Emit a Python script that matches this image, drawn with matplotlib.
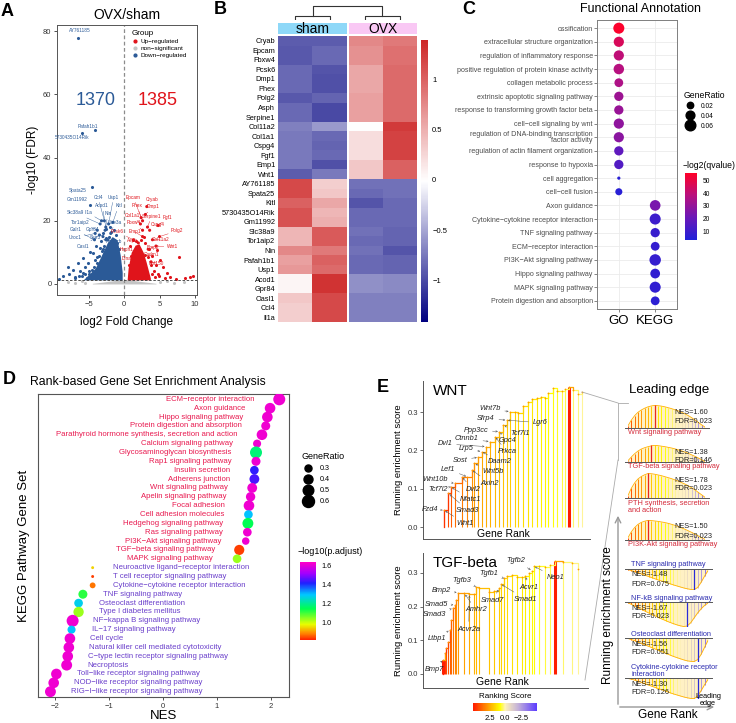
import numpy as np
import matplotlib
matplotlib.use('Agg')
import matplotlib.pyplot as plt
from matplotlib.colors import LinearSegmentedColormap, Normalize
from matplotlib.lines import Line2D
from matplotlib.cm import ScalarMappable

plt.rcParams['font.family'] = ['Liberation Sans', 'DejaVu Sans']

W, H = 736, 723
fig = plt.figure(figsize=(W / 100, H / 100), dpi=100)


def box(x0, y0, x1, y1):
    # axes from pixel box (top-left origin)
    return fig.add_axes([x0 / W, 1 - y1 / H, (x1 - x0) / W, (y1 - y0) / H])


def ftext(x, y, s, **kw):
    return fig.text(x / W, 1 - y / H, s, **kw)


BLUE = '#2B5A97'
RED = '#E0141B'
GREY = '#C4C4C4'

# ---------------- A: volcano data ----------------
grey_x = [-4.5, -3, -2, -1, -0.4, 0, 0.4, 1, 2, 3, 4.5]
grey_top = [0.2, 0.6, 0.9, 1.2, 1.3, 1.0, 1.3, 1.2, 0.9, 0.6, 0.2]
grey_px = [-8.0, -7.0, -6.0, -5.5, 5.0, 6.0, 7.0, 8.5]
grey_py = [0.6, 0.4, 0.8, 0.3, 0.5, 0.9, 0.3, 0.5]
blue_core_x = [-5.8, -4.1, -3.4, -2.4, -1.7, -1.0, -0.56, -0.28]
blue_core_top = [1.3, 5.0, 8.2, 13.0, 15.0, 14.0, 9.2, 3.8]
red_core_x = [0.42, 0.56, 0.99, 1.55, 2.1, 2.7, 3.1, 3.7]
red_core_top = [1.3, 5.0, 10.0, 12.3, 12.7, 10.0, 7.0, 1.9]
blue_x = [-9.2, -8.6, -8.0, -7.8, -7.3, -7.0, -6.6, -6.2, -5.8, -5.8, -5.5, -5.1, -5.0, -4.8, -4.4, -4.1,
          -4.0, -3.8, -3.4, -3.3, -3.0, -2.8, -2.5, -2.2, -2.0, -1.8, -1.5, -1.2, -1.0, -0.8, -6.9, -6.4,
          -5.3, -4.6, -3.6, -3.1, -6.5, -4.1, -5.9, -4.6, -4.8, -5.0, -4.3, -3.9, -3.0, -2.6, -6.0, -5.6]
blue_y = [1.5, 2.5, 5.4, 3.0, 4.4, 2.2, 6.6, 4.0, 8.2, 3.5, 5.5, 6.6, 3.0, 10.0, 9.8, 7.6,
          12.0, 6.5, 11.4, 13.5, 16.0, 12.0, 17.5, 15.0, 18.0, 16.5, 17.0, 15.5, 13.0, 11.0, 1.8, 2.6,
          2.0, 4.5, 9.0, 10.5, 78.0, 48.7, 47.8, 30.7, 25.0, 4.0, 5.5, 8.5, 11.0, 14.5, 2.4, 3.1]
red_x = [0.8, 1.2, 3.8, 4.0, 4.2, 4.5, 4.6, 4.8, 5.1, 5.5, 6.0, 6.5, 7.3, 7.8, 8.6, 9.3, 9.8, 3.5, 3.0,
         2.8, 1.0, 0.7, 4.9, 5.8, 3.9, 3.3, 4.3, 1.7, 2.4]
red_y = [12, 14, 6, 9, 4, 6, 10.8, 3, 7.6, 5.4, 3.5, 2.2, 1.7, 8.6, 1.9, 2.2, 2.6, 11, 13, 15, 9, 6, 2.5,
         2.0, 3.0, 8.5, 2.2, 13.5, 14.0]

a_names = ['Ccl4', 'Usp1', 'Acod1', 'Kitl', 'Slc38a9', 'Il1a', 'Nin', 'Tor1aip2', 'Ube3a', 'Galr1',
           'Gpr84', 'Uroc1', 'Sstr3', 'Oasl1', 'Ppp3cb',
           'Epcam', 'Cryab', 'Phex', 'Dmp1', 'Col1a1', 'Serpine1', 'Fgf1', 'Fbxw4', 'Cspg4', 'Pcsk6',
           'Emp1', 'Polg2', 'Asph', 'Col11a2', 'Bmp2', 'Wnt1', 'Hsph1', 'Cadm1', 'Dlna', 'Rnf150']
a_lab_x = [-3.7, -1.5, -3.1, -0.8, -6.9, -5.1, -2.3, -6.2, -1.3, -6.9, -4.5, -6.9, -4.1, -5.8, -1.5,
           1.3, 3.9, 1.8, 4.1, 1.1, 3.9, 6.1, 1.3, 4.8, -1.0, 1.5, 7.5, 1.1, 5.1, 4.1, 6.8, 0.4, 3.9, 0.4, 4.6]
a_lab_y = [27.5, 27.5, 24.7, 24.7, 22.5, 22.5, 22.2, 19.6, 19.6, 17.1, 17.4, 14.6, 14.6, 12.0, 13.6,
           27.5, 26.9, 24.7, 24.4, 21.8, 21.5, 21.2, 19.3, 18.7, 16.5, 16.5, 16.8, 13.9, 14.2, 11.7, 11.7,
           10.8, 9.2, 8.2, 6.6]
a_pt_x = [-2.8, -2.2, -2.6, -1.6, -3.4, -3.2, -2.7, -3.8, -1.9, -4.2, -3.0, -4.1, -2.6, -3.5, -2.3,
          2.4, 3.2, 2.6, 3.0, 2.3, 3.3, 4.8, 2.6, 3.6, 1.3, 2.6, 5.0, 2.0, 4.0, 3.4, 4.5, 2.2, 3.0, 2.0, 3.8]
a_pt_y = [20, 19, 18, 19.5, 19, 20, 17, 17, 16, 14, 15, 16, 14, 15.5, 14,
          21, 24.5, 20, 22, 19, 18, 18.5, 17, 17, 14, 15, 15, 13, 14, 11, 12, 11, 9, 9, 7]
a_top_names = ['AY761185', 'Pafah1b1', '5730435O14Rik', 'Spata25', 'Gm11992']
a_top_x = [-6.2, -5.2, -7.3, -6.5, -6.6]
a_top_y = [80.3, 50.0, 46.3, 29.5, 26.6]

# ---------------- B: heatmap data ----------------
b_genes = ['Cryab', 'Epcam', 'Fbxw4', 'Pcsk6', 'Dmp1', 'Phex', 'Polg2', 'Asph', 'Serpine1', 'Col11a2',
           'Col1a1', 'Cspg4', 'Fgf1', 'Emp1', 'Wnt1', 'AY761185', 'Spata25', 'Kitl', '5730435O14Rik',
           'Gm11992', 'Slc38a9', 'Tor1aip2', 'Nin', 'Pafah1b1', 'Usp1', 'Acod1', 'Gpr84', 'Oasl1',
           'Ccl4', 'Il1a']
b_sham1 = [-0.9, -0.92, -0.92, -0.82, -0.82, -0.82, -0.92, -0.82, -0.82, -0.7, -0.74, -0.74, -0.74, -0.74,
           -0.9, 1.15, 1.15, 1.0, 1.1, 1.1, 0.45, 0.45, 0.75, 0.6, 0.65, 0.05, 0.05, 0.35, 0.3, 0.3]
b_sham2 = [-0.9, -0.82, -0.82, -0.94, -0.97, -0.97, -0.86, -1.0, -1.0, -0.56, -0.82, -0.86, -0.82, -0.97,
           -0.74, 0.3, 0.35, 0.55, 0.45, 0.5, 1.05, 1.05, 0.85, 1.0, 0.95, 1.3, 1.3, 1.15, 1.15, 1.15]
b_ovx1 = [0.75, 0.7, 0.7, 0.55, 0.55, 0.55, 0.6, 0.6, 0.6, 0.0, 0.2, 0.2, 0.2, 0.35, 0.35,
          -0.78, -0.82, -0.94, -0.82, -0.82, -0.78, -0.82, -0.78, -0.82, -0.82, -0.62, -0.62, -0.7, -0.7,
          -0.7]
b_ovx2 = [0.85, 0.9, 0.9, 0.95, 0.95, 0.95, 0.95, 0.95, 0.95, 1.25, 1.2, 1.2, 1.2, 1.0, 1.0,
          -0.78, -0.78, -0.82, -0.82, -0.82, -0.86, -0.86, -0.94, -0.86, -0.86, -0.65, -0.65, -0.7, -0.7,
          -0.7]
b_dendro_height = [0.55, 0.55, 1.85]

# ---------------- C: functional annotation data ----------------
go_terms = ['ossification', 'extracellular structure organization', 'regulation of inflammatory response',
            'positive regulation of protein kinase activity', 'collagen metabolic process',
            'extrinsic apoptotic signaling pathway', 'response to transforming growth factor beta',
            'cell\u2212cell signaling by wnt', 'regulation of DNA-binding transcription\nfactor activity',
            'regulation of actin filament organization', 'response to hypoxia', 'cell aggregation',
            'cell\u2212cell fusion']
go_ratio = [0.065, 0.055, 0.055, 0.058, 0.04, 0.045, 0.045, 0.055, 0.055, 0.045, 0.045, 0.003, 0.025]
go_q = [55, 46, 40, 38, 36, 32, 31, 29, 28, 18, 15, 5, 5]
kegg_terms = ['Axon guidance', 'Cytokine\u2212cytokine receptor interaction', 'TNF signaling pathway',
              'ECM\u2212receptor interaction', 'PI3K\u2212Akt signaling pathway', 'Hippo signaling pathway',
              'MAPK signaling pathway', 'Protein digestion and absorption']
kegg_ratio = [0.06, 0.065, 0.045, 0.04, 0.07, 0.05, 0.065, 0.04]
kegg_q = [24, 10, 9, 8, 8, 7, 7, 6]

# ---------------- D: GSEA dot plot data ----------------
d_terms = ['ECM\u2212receptor interaction', 'Axon guidance', 'Hippo signaling pathway',
           'Protein digestion and absorption', 'Parathyroid hormone synthesis, secretion and action',
           'Calcium signaling pathway', 'Glycosaminoglycan biosynthesis', 'Rap1 signaling pathway',
           'Insulin secretion', 'Adherens junction', 'Wnt signaling pathway', 'Apelin signaling pathway',
           'Focal adhesion', 'Cell adhesion molecules', 'Hedgehog signaling pathway', 'Ras signaling pathway',
           'PI3K\u2212Akt signaling pathway', 'TGF\u2212beta signaling pathway', 'MAPK signaling pathway',
           'Neuroactive ligand\u2212receptor interaction', 'T cell receptor signaling pathway',
           'Cytokine\u2212cytokine receptor interaction', 'TNF signaling pathway', 'Osteoclast differentiation',
           'Type I diabetes mellitus', 'NF\u2212kappa B signaling pathway', 'IL\u221217 signaling pathway',
           'Cell cycle', 'Natural killer cell mediated cytotoxicity',
           'C\u2212type lectin receptor signaling pathway', 'Necroptosis',
           'Toll\u2212like receptor signaling pathway', 'NOD\u2212like receptor signaling pathway',
           'RIG\u2212I\u2212like receptor signaling pathway']
d_nes = [2.15, 1.98, 1.93, 1.9, 1.83, 1.74, 1.72, 1.72, 1.69, 1.69, 1.65, 1.62, 1.59, 1.58, 1.57, 1.56,
         1.53, 1.41, 1.37, -1.3, -1.3, -1.3, -1.48, -1.56, -1.56, -1.67, -1.69, -1.72, -1.74, -1.76,
         -1.78, -1.97, -2.02, -2.08]
d_ratio = [0.6, 0.5, 0.5, 0.4, 0.5, 0.35, 0.6, 0.4, 0.38, 0.45, 0.45, 0.42, 0.5, 0.38, 0.52, 0.38,
           0.32, 0.47, 0.38, 0.17, 0.17, 0.25, 0.4, 0.38, 0.48, 0.6, 0.35, 0.5, 0.5, 0.5, 0.52, 0.5, 0.5, 0.52]
d_padj = [1.62, 1.62, 1.62, 1.62, 1.62, 1.62, 1.18, 1.62, 1.43, 1.45, 1.62, 1.62, 1.62, 1.3, 1.15, 1.62,
          1.62, 0.84, 1.04, 0.95, 0.84, 0.88, 1.12, 1.28, 1.04, 1.62, 1.3, 1.62, 1.62, 1.62, 1.62, 1.62,
          1.62, 1.62]

# ---------------- E: GSEA running scores ----------------
wnt_rank = [12.6, 15.2, 16.6, 19.2, 23.2, 26.6, 29.2, 30.7, 33.1, 35.1, 37.7, 40.1, 43.1, 45.7, 48.1,
            50.1, 52.1, 55.1, 57.1, 60.1, 63.1, 65.1, 68.1, 70.7, 73.1, 75.1, 77.7, 80.1, 83.1, 85.0,
            87.6, 90.0, 93.0, 95.0]
wnt_es = [0.044, 0.088, 0.105, 0.114, 0.131, 0.131, 0.149, 0.166, 0.182, 0.197, 0.210, 0.223, 0.236,
          0.249, 0.266, 0.279, 0.301, 0.301, 0.297, 0.316, 0.325, 0.333, 0.336, 0.340, 0.336, 0.349,
          0.362, 0.356, 0.356, 0.359, 0.366, 0.358, 0.347, 0.353]
wnt_score = [4.6, 4.2, 3.9, 3.6, 3.3, 3.1, 2.9, 2.7, 2.6, 2.5, 2.4, 2.3, 2.2, 2.1, 2.0, 1.9, 1.8, 1.7,
             1.6, 1.5, 1.4, 1.3, 1.2, 1.1, 1.0, 0.9, 0.8, 0.7, 0.6, 0.5, 5.0, 0.4, 0.3, 0.2]
wnt_genes = ['Wnt7b', 'Sfrp4', 'Ppp3cc', 'Ctnnb1', 'Dvl1', 'Lrp5', 'Sost', 'Lef1', 'Wnt10b', 'Tcf7l2',
             'Fzd4', 'Wnt1', 'Smad3', 'Nfatc1', 'Dvl2', 'Axin2', 'Wnt5b', 'Daam2', 'Prkca', 'Gpc4',
             'Tcf7l1', 'Lgr6']
wnt_gx = [40.1, 37.7, 31.7, 26.3, 13.2, 25.7, 22.2, 15.0, 7.2, 9.0, 4.2, 25.1, 26.9, 28.7, 29.9, 40.1,
          41.9, 46.1, 50.3, 50.9, 58.1, 70.1]
wnt_gy = [0.308, 0.282, 0.253, 0.230, 0.217, 0.204, 0.175, 0.151, 0.123, 0.099, 0.047, 0.010, 0.044,
          0.073, 0.099, 0.115, 0.144, 0.170, 0.196, 0.225, 0.245, 0.272]
wnt_hit = [16, 15, 13, 11, 10, 9, 8, 5, 3, 2, 0, 0, 1, 2, 4, 6, 7, 9, 12, 13, 14, 15]

tgf_rank = [12.2, 13.2, 14.2, 15.2, 16.2, 17.2, 18.2, 19.2, 20.2, 21.2, 25.1, 28.1, 31.1, 32.1, 34.1,
            40.1, 43.1, 46.1, 47.1, 49.1, 51.1, 54.1, 57.1, 60.1, 62.1, 64.1, 66.0, 67.1, 70.1, 74.1,
            77.1, 80.1, 85.0, 90.0, 94.0]
tgf_es = [0.042, 0.061, 0.076, 0.096, 0.13, 0.16, 0.195, 0.205, 0.22, 0.241, 0.239, 0.237, 0.237,
          0.259, 0.256, 0.244, 0.247, 0.254, 0.267, 0.284, 0.291, 0.294, 0.289, 0.287, 0.291, 0.299,
          0.307, 0.32, 0.321, 0.318, 0.323, 0.336, 0.332, 0.328, 0.311]
tgf_score = [5.0, 4.6, 4.3, 4.0, 3.8, 3.6, 3.4, 3.2, 3.0, 2.8, 2.6, 2.4, 2.3, 2.2, 2.1, 2.0, 1.9, 1.8,
             1.7, 1.6, 1.5, 1.4, 1.3, 1.2, 1.1, 1.0, 0.9, 0.8, 0.7, 0.6, 0.5, 5.0, 0.4, 0.3, 0.2]
tgf_genes = ['Tgfb2', 'Neo1', 'Tgfb1', 'Acvr1', 'Tgfb3', 'Smad1', 'Smad7', 'Bmp2', 'Amhr2', 'Smad5',
             'Smad3', 'Acvr2a', 'Ltbp1', 'Bmp7']
tgf_gx = [56.1, 80.1, 40.1, 64.1, 23.8, 62.1, 42.1, 11.2, 32.1, 8.2, 7.2, 27.7, 8.2, 7.2]
tgf_gy = [0.336, 0.287, 0.297, 0.256, 0.276, 0.222, 0.217, 0.249, 0.19, 0.205, 0.175, 0.133, 0.106, 0.014]
tgf_hit = [26, 27, 19, 24, 13, 18, 17, 9, 10, 7, 6, 11, 4, 0]

# leading edge mini curves
le_names = ['Wnt signaling pathway', 'TGF-beta signaling pathway', 'PTH synthesis, secretion\nand action',
            'PI3K-Akt signaling pathway', 'TNF signaling pathway', 'NF-kB signaling pathway',
            'Osteoclast differentiation', 'Cytokine-cytokine receptor\ninteraction']
le_nes = ['1.60', '1.38', '1.78', '1.50', '-1.48', '-1.67', '-1.56', '-1.30']
le_fdr = ['0.023', '0.146', '0.023', '0.023', '0.075', '0.023', '0.051', '0.126']
le_mark = [8, 7, 6, 6, 19, 17, 20, 20]
mini_score = [4.5, 4.0, 3.6, 3.2, 2.8, 2.5, 2.2, 1.9, 1.6, 1.3, 1.0, 0.8, 0.6, 0.4, 0.2, 0.0, -0.3, -0.6,
              -1.0, -1.5, -2.0, -2.7, -3.5, -4.5]
le_wnt = [0.1, 0.35, 0.55, 0.7, 0.8, 0.88, 0.94, 0.98, 1.0, 0.99, 0.97, 0.94, 0.9, 0.86, 0.81, 0.76, 0.7,
          0.63, 0.55, 0.46, 0.36, 0.25, 0.14, 0.04]
le_tgf = [0.08, 0.3, 0.5, 0.66, 0.78, 0.86, 0.92, 0.97, 1.0, 0.98, 0.95, 0.92, 0.88, 0.84, 0.79, 0.73,
          0.67, 0.6, 0.52, 0.43, 0.34, 0.24, 0.13, 0.03]
le_pth = [0.1, 0.4, 0.62, 0.78, 0.88, 0.95, 1.0, 0.99, 0.97, 0.94, 0.91, 0.87, 0.83, 0.79, 0.74, 0.69,
          0.63, 0.57, 0.5, 0.42, 0.33, 0.23, 0.13, 0.03]
le_pi3k = [0.12, 0.42, 0.64, 0.8, 0.9, 0.96, 1.0, 0.99, 0.97, 0.95, 0.92, 0.89, 0.85, 0.8, 0.75, 0.69,
           0.62, 0.55, 0.47, 0.39, 0.3, 0.21, 0.12, 0.03]
le_tnf = [-0.03, -0.08, -0.13, -0.19, -0.25, -0.31, -0.37, -0.43, -0.49, -0.55, -0.6, -0.66, -0.71,
          -0.77, -0.82, -0.87, -0.92, -0.96, -0.99, -1.0, -0.9, -0.65, -0.35, -0.08]
le_nfkb = [-0.03, -0.1, -0.17, -0.24, -0.31, -0.38, -0.45, -0.52, -0.58, -0.65, -0.71, -0.77, -0.83,
           -0.88, -0.93, -0.97, -1.0, -0.98, -0.85, -0.65, -0.45, -0.28, -0.14, -0.04]
le_osteo = [-0.02, -0.07, -0.12, -0.18, -0.24, -0.3, -0.36, -0.42, -0.48, -0.54, -0.6, -0.66, -0.72,
            -0.78, -0.83, -0.88, -0.93, -0.97, -0.99, -1.0, -0.92, -0.7, -0.4, -0.1]
le_cyto = [-0.02, -0.06, -0.11, -0.17, -0.23, -0.29, -0.35, -0.41, -0.47, -0.53, -0.59, -0.65, -0.71,
           -0.77, -0.82, -0.87, -0.92, -0.96, -0.99, -1.0, -0.88, -0.62, -0.33, -0.07]

# ================= Panel A =================
axA = box(57, 25, 197, 295)
axA.fill_between(grey_x, 0, grey_top, color=GREY, lw=0)
axA.scatter(grey_px, grey_py, s=5, color=GREY, lw=0)
axA.fill_between(blue_core_x, 1.3, blue_core_top, color=BLUE, lw=0)
axA.fill_between(red_core_x, 1.3, red_core_top, color=RED, lw=0)
axA.scatter(blue_x, blue_y, s=5, color=BLUE, lw=0)
axA.scatter(red_x, red_y, s=5, color=RED, lw=0)
axA.scatter(a_pt_x, a_pt_y, s=5, lw=0, color=[BLUE] * 15 + [RED] * 20)
for i, name in enumerate(a_names):
    c = BLUE if i < 15 else RED
    axA.annotate(name, xy=(a_pt_x[i], a_pt_y[i]), xytext=(a_lab_x[i], a_lab_y[i]), fontsize=3.4,
                 color=c, ha='center', va='center',
                 arrowprops=dict(arrowstyle='-', lw=0.3, color=c, shrinkA=0, shrinkB=0))
for i, name in enumerate(a_top_names):
    axA.text(a_top_x[i], a_top_y[i], name, fontsize=3.4, color=BLUE, ha='center', va='center')
axA.axvline(0, ls=(0, (3, 2)), color='#8C8C8C', lw=0.9)
axA.axhline(1.3, ls=(0, (3, 2)), color='#333333', lw=0.6)
axA.text(-4.1, 58.2, '1370', color=BLUE, fontsize=13, ha='center', va='center')
axA.text(4.8, 58.2, '1385', color=RED, fontsize=13, ha='center', va='center')
axA.set_xlim(-9.5, 10.3)
axA.set_ylim(-3.5, 82)
axA.set_xticks([-5, 0, 5, 10])
axA.set_yticks([0, 20, 40, 60, 80])
axA.tick_params(labelsize=5.5, length=2.5, width=0.6, colors='#333333', pad=1.5)
for sp in axA.spines.values():
    sp.set_color('#555555')
    sp.set_linewidth(0.7)
axA.set_xlabel('log2 Fold Change', fontsize=8.5, labelpad=6)
axA.set_ylabel('-log10 (FDR)', fontsize=8.5, labelpad=3)
axA.set_title('OVX/sham', fontsize=10, pad=4)
handlesA = [Line2D([], [], marker='o', ls='', color=c, markersize=2) for c in (RED, GREY, BLUE)]
legA = axA.legend(handlesA, ['Up\u2212regulated', 'non\u2212significant', 'Down\u2212regulated'],
                  title='Group', loc='upper left', bbox_to_anchor=(0.5, 1.0), fontsize=4.6,
                  title_fontsize=5.8, frameon=False, handlelength=0.8, handletextpad=0.5,
                  labelspacing=0.25, borderpad=0.3)
legA._legend_box.align = 'left'
ftext(1, 12, 'A', fontsize=13, fontweight='bold', va='center')

# ================= Panel B =================
heat_cmap = LinearSegmentedColormap.from_list('heat', ['#000080', '#FFFFFF', '#CD2626'])
vals = np.array([b_sham1, b_sham2, b_ovx1, b_ovx2]).T
axS = box(278, 36, 347, 322)
axO = box(349, 36, 417, 322)
imB = axS.imshow(vals[:, :2], cmap=heat_cmap, vmin=-1.41, vmax=1.39, aspect='auto')
axO.imshow(vals[:, 2:], cmap=heat_cmap, vmin=-1.41, vmax=1.39, aspect='auto')
for ax in (axS, axO):
    ax.set_xticks([])
    for sp in ax.spines.values():
        sp.set_visible(False)
axO.set_yticks([])
axS.set_yticks(range(len(b_genes)))
axS.set_yticklabels(b_genes, fontsize=5.3)
axS.tick_params(axis='y', length=0, pad=2)
for (x0, x1, lab, col) in ((278, 347, 'sham', '#8ED8F8'), (349, 417, 'OVX', '#F9C8F4')):
    hb = box(x0, 23, x1, 34)
    hb.set_facecolor(col)
    hb.set_xticks([])
    hb.set_yticks([])
    for sp in hb.spines.values():
        sp.set_visible(False)
    hb.text(0.5, 0.45, lab, fontsize=10, ha='center', va='center', transform=hb.transAxes)
axDen = box(278, 5, 417, 20)
axDen.set_xlim(-0.5, 3.5)
axDen.set_ylim(0, 2)
axDen.axis('off')
h1, h2, h3 = b_dendro_height
axDen.plot([0, 0, 1, 1], [0, h1, h1, 0], color='#333333', lw=0.8)
axDen.plot([2, 2, 3, 3], [0, h2, h2, 0], color='#333333', lw=0.8)
axDen.plot([0.5, 0.5, 2.5, 2.5], [h1, h3, h3, h2], color='#333333', lw=0.8)
caxB = box(421, 40, 428, 322)
cbB = fig.colorbar(imB, cax=caxB)
cbB.outline.set_visible(False)
cbB.set_ticks([-1, -0.5, 0, 0.5, 1])
cbB.set_ticklabels(['\u22121', '\u22120.5', '0', '0.5', '1'])
caxB.tick_params(length=0, labelsize=5.5, pad=3)
ftext(214, 10, 'B', fontsize=13, fontweight='bold', va='center')

# ================= Panel C =================
c_cmap = LinearSegmentedColormap.from_list('bq', ['#2020D8', '#6A18B8', '#B8107E', '#FF0028'])
c_norm = Normalize(3, 56)
axC = box(597, 20, 677, 309)
c_terms = go_terms + kegg_terms
c_y = np.arange(1, len(c_terms) + 1)
c_x = [1] * len(go_terms) + [2] * len(kegg_terms)
c_ratio = np.array(go_ratio + kegg_ratio)
c_q = go_q + kegg_q
axC.scatter(c_x, c_y, s=(5 + 1800 * c_ratio) * 0.5184, c=c_q, cmap=c_cmap, norm=c_norm, lw=0, zorder=3)
axC.set_xlim(0.4, 2.6)
axC.set_ylim(len(c_terms) + 0.6, 0.4)
axC.set_xticks([1, 2])
axC.set_xticklabels(['GO', 'KEGG'], fontsize=9.5)
axC.set_yticks(c_y)
axC.set_yticklabels(c_terms, fontsize=5.1, color='#4D4D4D', linespacing=0.75)
axC.tick_params(axis='y', length=2, width=0.5, color='#555555', pad=1)
axC.tick_params(axis='x', length=2, width=0.5, color='#555555', pad=2)
axC.grid(True, color='#EBEBEB', lw=0.6)
axC.set_axisbelow(True)
for sp in axC.spines.values():
    sp.set_color('#7F7F7F')
    sp.set_linewidth(0.7)
ftext(640, 9, 'Functional Annotation', fontsize=9, ha='center', va='center')
c_leg_vals = [0.02, 0.04, 0.06]
handlesC = [Line2D([], [], marker='o', ls='', color='black', markersize=np.sqrt(5 + 1800 * v) * 0.72)
            for v in c_leg_vals]
legC = fig.legend(handlesC, ['0.02', '0.04', '0.06'], title='GeneRatio', loc='upper left',
                  bbox_to_anchor=(679 / W, 1 - 86 / H), frameon=False, fontsize=4.8, title_fontsize=6.2,
                  handletextpad=0.6, labelspacing=0.45, borderpad=0.2)
legC._legend_box.align = 'left'
caxC = box(685, 173, 697, 240)
cbC = fig.colorbar(ScalarMappable(norm=c_norm, cmap=c_cmap), cax=caxC)
cbC.outline.set_visible(False)
cbC.set_ticks([10, 20, 30, 40, 50])
caxC.tick_params(length=2, color='white', labelsize=4.8, pad=2)
ftext(683, 166, '\u2212log2(qvalue)', fontsize=6.2, va='center')
ftext(462, 10, 'C', fontsize=13, fontweight='bold', va='center')

# ================= Panel D =================
d_cmap = LinearSegmentedColormap.from_list('rb', [
    (0.0, '#FF2200'), (0.09, '#FF8C00'), (0.2, '#E8FF00'), (0.4, '#00FF50'),
    (0.58, '#00C8FF'), (0.73, '#2020FF'), (0.85, '#A000FF'), (1.0, '#FF00C8')])
d_norm = Normalize(0.82, 1.64)
axD = box(38, 394, 289, 697)
d_y = np.arange(1, len(d_terms) + 1)
d_ratio_a = np.array(d_ratio)
axD.scatter(d_nes, d_y, s=(-45 + 315 * d_ratio_a) * 0.5184, c=d_padj, cmap=d_cmap, norm=d_norm,
            lw=0, zorder=3)
for i, t in enumerate(d_terms):
    if d_nes[i] > 0:
        axD.text(d_nes[i] - 0.45, d_y[i], t, ha='right', va='center', fontsize=5.6, color='#E8194F')
    else:
        axD.text(d_nes[i] + 0.38, d_y[i], t, ha='left', va='center', fontsize=5.6, color='#6A3FCB')
axD.set_xlim(-2.31, 2.33)
axD.set_ylim(len(d_terms) + 0.6, 0.4)
axD.set_yticks([])
axD.set_xticks([-2, -1, 0, 1, 2])
axD.tick_params(axis='x', labelsize=5.5, length=2.5, width=0.6, colors='#333333', pad=1.5)
for sp in axD.spines.values():
    sp.set_color('#555555')
    sp.set_linewidth(0.8)
axD.set_xlabel('NES', fontsize=9.5, labelpad=0)
axD.set_ylabel('KEGG Pathway Gene Set', fontsize=9.5, labelpad=6)
ftext(148, 382, 'Rank-based Gene Set Enrichment Analysis', fontsize=8.8, ha='center', va='center')
d_leg_vals = [0.3, 0.4, 0.5, 0.6]
handlesD = [Line2D([], [], marker='o', ls='', color='black', markersize=np.sqrt(-45 + 315 * v) * 0.72)
            for v in d_leg_vals]
legD = fig.legend(handlesD, ['0.3', '0.4', '0.5', '0.6'], title='GeneRatio', loc='upper left',
                  bbox_to_anchor=(296 / W, 1 - 447 / H), frameon=False, fontsize=5.2, title_fontsize=6.5,
                  handletextpad=0.6, labelspacing=0.55, borderpad=0.2)
legD._legend_box.align = 'left'
caxD = box(300, 562, 316, 640)
cbD = fig.colorbar(ScalarMappable(norm=d_norm, cmap=d_cmap), cax=caxD)
cbD.outline.set_visible(False)
cbD.set_ticks([1.0, 1.2, 1.4, 1.6])
caxD.tick_params(length=2, color='white', labelsize=5.2, pad=2)
ftext(298, 552, '\u2212log10(p.adjust)', fontsize=6.5, va='center')
ftext(3, 380, 'D', fontsize=13, fontweight='bold', va='center')

# ================= Panel E =================
rank_cmap = LinearSegmentedColormap.from_list('rank', [
    (0.0, '#5B3BFF'), (0.3, '#C4B2D8'), (0.5, '#FFF2B8'), (0.58, '#FFFF00'), (0.75, '#FFA500'),
    (1.0, '#FF1A00')])
rank_norm = Normalize(-5.0, 5.1)


def gsea_panel(ax, ranks, es, score, genes, gx, gy, hits, title):
    cols = rank_cmap(rank_norm(np.array(score)))
    lws = [2.2 if s >= 5 else 0.8 for s in score]
    for i in range(len(ranks)):
        ax.vlines(ranks[i], 0, es[i], color=cols[i], lw=lws[i], zorder=2)
    for i in range(len(ranks) - 1):
        ax.plot([ranks[i], ranks[i + 1], ranks[i + 1]], [es[i], es[i], es[i + 1]],
                color=cols[i] if score[i] < 5 else '#FFA500', lw=0.9, zorder=3)
    ax.plot([ranks[0], ranks[0]], [0, es[0]], color=cols[0], lw=0.9, zorder=3)
    ax.scatter(ranks, es, s=1.5, color='#FF9900', lw=0, zorder=4)
    for i, g in enumerate(genes):
        h = hits[i]
        ax.annotate(g, xy=(ranks[h], es[h]), xytext=(gx[i], gy[i]), fontsize=5.3, style='italic',
                    ha='center', va='center', color='#222222', zorder=5,
                    arrowprops=dict(arrowstyle='->', lw=0.35, color='#555555', shrinkA=1, shrinkB=1,
                                    mutation_scale=3))
    ax.set_xlim(0, 100)
    ax.set_xticks([])
    ax.set_yticks([0.0, 0.1, 0.2, 0.3])
    ax.tick_params(axis='y', labelsize=5.5, length=2, width=0.5, colors='#333333', pad=1.5)
    for sp in ('top', 'right'):
        ax.spines[sp].set_visible(False)
    for sp in ('left', 'bottom'):
        ax.spines[sp].set_color('#555555')
        ax.spines[sp].set_linewidth(0.7)
    ax.set_ylabel('Running enrichment score', fontsize=6.8, labelpad=3)
    ax.text(0.06, 0.98, title, transform=ax.transAxes, fontsize=11, va='top', ha='left')


axW = box(423, 381, 590, 539)
axW.set_ylim(-0.031, 0.381)
gsea_panel(axW, wnt_rank, wnt_es, wnt_score, wnt_genes, wnt_gx, wnt_gy, wnt_hit, 'WNT')
ftext(503, 534, 'Gene Rank', fontsize=7.5, ha='center', va='center')

axT = box(423, 553, 588, 688)
axT.set_ylim(-0.042, 0.359)
gsea_panel(axT, tgf_rank, tgf_es, tgf_score, tgf_genes, tgf_gx, tgf_gy, tgf_hit, 'TGF-beta')
ftext(502, 682, 'Gene Rank', fontsize=7.5, ha='center', va='center')

caxE = box(473, 703, 537, 711)
cbE = fig.colorbar(ScalarMappable(norm=rank_norm, cmap=rank_cmap), cax=caxE, orientation='horizontal')
cbE.outline.set_visible(False)
caxE.invert_xaxis()
cbE.set_ticks([2.5, 0.0, -2.5])
cbE.set_ticklabels(['2.5', '0.0', '\u22122.5'])
caxE.tick_params(length=2, color='white', labelsize=5.5, pad=1)
ftext(505, 697, 'Ranking Score', fontsize=5.8, ha='center', va='center')
ftext(377, 388, 'E', fontsize=13, fontweight='bold', va='center')

# leading edge
ftext(669, 390, 'Leading edge', fontsize=9.5, ha='center', va='center')
le_curves = [le_wnt, le_tgf, le_pth, le_pi3k, le_tnf, le_nfkb, le_osteo, le_cyto]
le_boxes = [(628, 405, 705, 428), (628, 445, 705, 462), (628, 473, 705, 498), (628, 520, 705, 540),
            (628, 569, 708, 590), (628, 602, 708, 627), (628, 638, 708, 662), (628, 678, 708, 699)]
le_lab_y = [433, 467, 507, 545, 564, 598, 634, 671]
xpos = np.arange(len(mini_score)) / (len(mini_score) - 1)
mini_cols = rank_cmap(rank_norm(np.array(mini_score)))
for k, curve in enumerate(le_curves):
    x0, y0, x1, y1 = le_boxes[k]
    ax = box(x0, y0, x1, y1)
    curve = np.array(curve)
    pos = curve.max() > 0
    ax.fill_between(xpos, 0, curve, color='#FFF1C4', lw=0)
    ax.vlines(xpos, 0, curve, colors=mini_cols, lw=0.7)
    ax.plot(xpos, curve, color='#FFB000', lw=0.6)
    m = le_mark[k]
    ax.vlines(xpos[m], 0, 1.0 if pos else -1.0, color='#E8281E' if pos else '#2B2BD8', lw=0.9)
    ax.axhline(0, xmin=-0.04, xmax=1.05, color='#555555', lw=0.7, clip_on=False)
    ax.set_xlim(0, 1)
    ax.set_ylim((0, 1.02) if pos else (-1.02, 0))
    ax.axis('off')
    if pos:
        ftext(628, le_lab_y[k], le_names[k], fontsize=5.3, color='#D42A3A', va='center', linespacing=0.9)
        ftext(674, y0 + 7, 'NES=' + le_nes[k], fontsize=5.3, color='#222222', va='center')
        ftext(674, y0 + 16, 'FDR=' + le_fdr[k], fontsize=5.3, color='#222222', va='center')
    else:
        ftext(631, le_lab_y[k], le_names[k], fontsize=5.3, color='#2C2CB0', va='center', linespacing=0.9)
        ftext(631, y0 + 6, 'NES=' + le_nes[k], fontsize=5.3, color='#222222', va='center')
        ftext(631, y0 + 15, 'FDR=' + le_fdr[k], fontsize=5.3, color='#222222', va='center')
ftext(708, 700, 'Leading\nedge', fontsize=5.3, ha='center', va='center', linespacing=0.9)
fig.add_artist(Line2D([582 / W, 618 / W], [1 - 392 / H, 1 - 403 / H], color='#AAAAAA', lw=0.6))
fig.add_artist(Line2D([585 / W, 618 / W], [1 - 680 / H, 1 - 460 / H], color='#AAAAAA', lw=0.6))
fig.add_artist(Line2D([618 / W, 618 / W], [1 - 403 / H, 1 - 460 / H], color='#AAAAAA', lw=0.6))
fig.add_artist(Line2D([618 / W, 628 / W], [1 - 403 / H, 1 - 403 / H], color='#AAAAAA', lw=0.6))
plt.annotate('', xy=(618, H - 513), xytext=(618, H - 707), xycoords='figure pixels',
             arrowprops=dict(arrowstyle='->', color='#999999', lw=1.0))
plt.annotate('', xy=(717, H - 707), xytext=(617, H - 707), xycoords='figure pixels',
             arrowprops=dict(arrowstyle='->', color='#999999', lw=1.0))
ftext(608, 615, 'Running enrichment score', fontsize=8.5, rotation=90, ha='center', va='center')
ftext(668, 715, 'Gene Rank', fontsize=8.5, ha='center', va='center')

fig.savefig('out.png', dpi=100)
